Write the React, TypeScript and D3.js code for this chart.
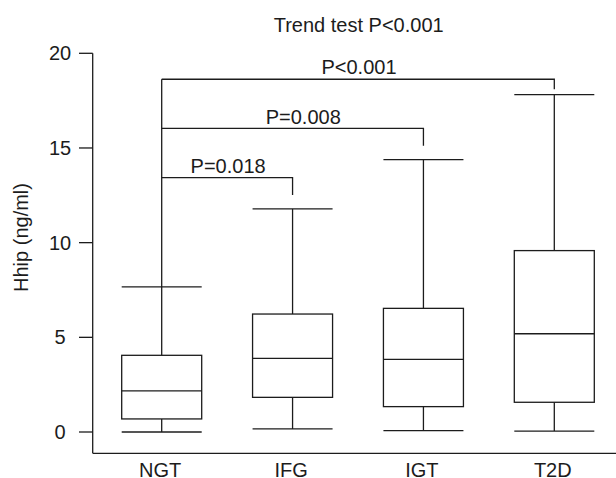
import React from "react";
import * as d3 from "d3";

const categories = ["NGT", "IFG", "IGT", "T2D"];
const whiskerLow = [0.0, 0.16, 0.07, 0.05];
const q1 = [0.69, 1.83, 1.34, 1.57];
const median = [2.17, 3.89, 3.84, 5.19];
const q3 = [4.05, 6.23, 6.53, 9.58];
const whiskerHigh = [7.66, 11.78, 14.38, 17.82];
const yTicks = [0, 5, 10, 15, 20];

const compareFrom = ["NGT", "NGT", "NGT"];
const compareTo = ["IFG", "IGT", "T2D"];
const compareLevel = [13.43, 16.04, 18.63];
const compareDropTo = [12.52, 15.12, 18.1];
const compareLabels = ["P=0.018", "P=0.008", "P<0.001"];

const title = "Trend test P<0.001";
const yLabel = "Hhip (ng/ml)";

const W = 616;
const H = 478;
const FONT = "'Liberation Sans', Arial, Helvetica, sans-serif";
const INK = "#1c1c1c";

export default function App() {
  const y = d3.scaleLinear().domain([0, 20]).range([432, 53.3]);
  const x = d3.scalePoint<string>().domain(categories).range([161.7, 554.3]);
  const axisX = 92.7;
  const axisBottom = 453.3;
  const boxW = 80;
  const labelDx = [1, 10.7, 1];
  const labelDy = [-5.2, -3.8, -5.3];
  const sw = 1.3;

  return (
    <svg
      width={W}
      height={H}
      viewBox={`0 0 ${W} ${H}`}
      style={{ position: "absolute", left: 0, top: 0, background: "#fff" }}
      fontFamily={FONT}
    >
      <rect x={0} y={0} width={W} height={H} fill="#fff" />
      {/* axes */}
      <line x1={axisX} x2={axisX} y1={y(20)} y2={axisBottom} stroke={INK} strokeWidth={sw} />
      <line x1={axisX} x2={W} y1={axisBottom} y2={axisBottom} stroke={INK} strokeWidth={sw} />
      {yTicks.map((t) => (
        <g key={t}>
          <line x1={79} x2={axisX} y1={y(t)} y2={y(t)} stroke={INK} strokeWidth={sw} />
          <text x={60} y={y(t) + 7} textAnchor="middle" fontSize={20} fill={INK}>
            {t}
          </text>
        </g>
      ))}
      <text
        transform={`translate(28, ${237.5}) rotate(-90)`}
        textAnchor="middle"
        fontSize={20}
        fill={INK}
      >
        {yLabel}
      </text>
      {categories.map((c) => (
        <text key={c} x={x(c)! - 1.5} y={477} textAnchor="middle" fontSize={20} fill={INK}>
          {c}
        </text>
      ))}

      {/* boxes */}
      {categories.map((c, i) => {
        const cx = x(c)!;
        return (
          <g key={c} stroke={INK} strokeWidth={sw} fill="none">
            <line x1={cx} x2={cx} y1={y(whiskerLow[i])} y2={y(q1[i])} />
            <line x1={cx} x2={cx} y1={y(q3[i])} y2={y(whiskerHigh[i])} />
            <line x1={cx - boxW / 2} x2={cx + boxW / 2} y1={y(whiskerLow[i])} y2={y(whiskerLow[i])} />
            <line x1={cx - boxW / 2} x2={cx + boxW / 2} y1={y(whiskerHigh[i])} y2={y(whiskerHigh[i])} />
            <rect x={cx - boxW / 2} y={y(q3[i])} width={boxW} height={y(q1[i]) - y(q3[i])} fill="#fff" />
            <line x1={cx - boxW / 2} x2={cx + boxW / 2} y1={y(median[i])} y2={y(median[i])} />
          </g>
        );
      })}

      {/* comparison brackets */}
      <line
        x1={x(compareFrom[0])!}
        x2={x(compareFrom[0])!}
        y1={y(whiskerHigh[0])}
        y2={y(d3.max(compareLevel)!)}
        stroke={INK}
        strokeWidth={sw}
      />
      {compareTo.map((c, i) => {
        const x0 = x(compareFrom[i])!;
        const x1 = x(c)!;
        const yy = y(compareLevel[i]);
        return (
          <g key={c}>
            <path
              d={`M${x0},${yy}H${x1}V${y(compareDropTo[i])}`}
              fill="none"
              stroke={INK}
              strokeWidth={sw}
            />
            <text
              x={(x0 + x1) / 2 + labelDx[i]}
              y={yy + labelDy[i]}
              textAnchor="middle"
              fontSize={20}
              fill={INK}
            >
              {compareLabels[i]}
            </text>
          </g>
        );
      })}

      <text x={358.7} y={31.5} textAnchor="middle" fontSize={20} fill={INK}>
        {title}
      </text>
    </svg>
  );
}
